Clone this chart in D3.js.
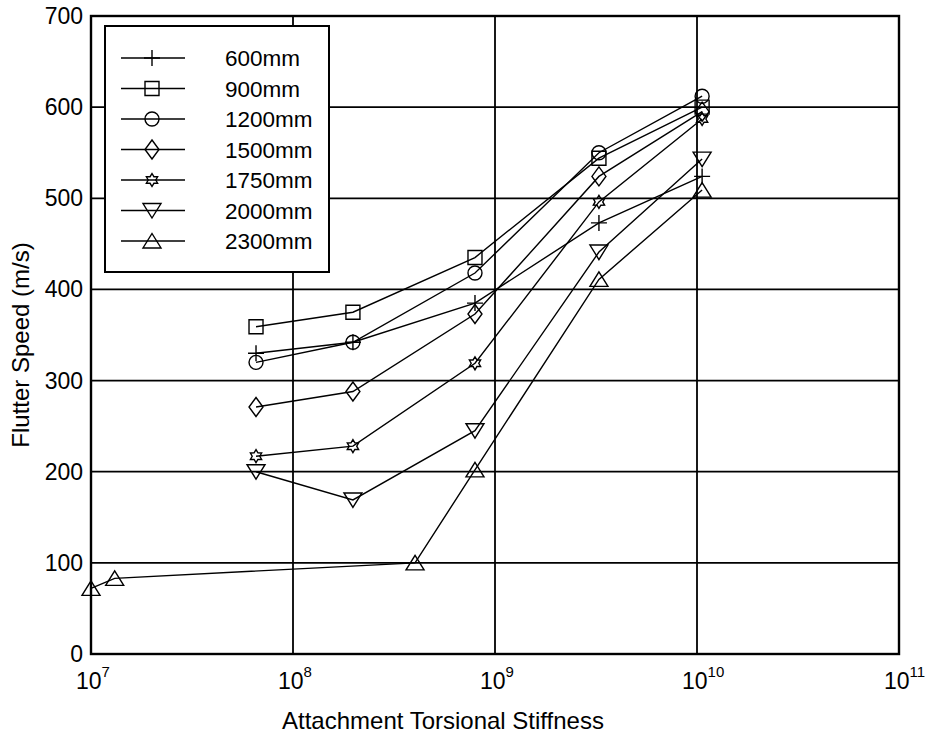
<!DOCTYPE html>
<html>
<head>
<meta charset="utf-8">
<script src="https://cdn.jsdelivr.net/npm/d3@7"></script>
<style>
  body { margin: 0; background: #fff; }
  text { font-family: "Liberation Sans", Arial, Helvetica, sans-serif; fill: #000; }
</style>
</head>
<body>
<div id="chart"></div>
<script>
// stiffness (N.m/rad) at which each run was made
const stiffness = [6.56e7, 1.98e8, 7.96e8, 3.27e9, 1.06e10];
const stiffness2300 = [1e7, 1.31e7, 4.02e8, 7.96e8, 3.27e9, 1.06e10];

// flutter speed (m/s) per store length
const speed600 = [330, 342, 385, 473, 524];
const speed900 = [359, 375, 435, 544, 600];
const speed1200 = [320, 342, 418, 550, 612];
const speed1500 = [271, 288, 373, 524, 595];
const speed1750 = [217, 228, 319, 496, 587];
const speed2000 = [200, 169, 245, 441, 543];
const speed2300 = [72, 83, 100, 202, 411, 509];

const lengths = ["600mm", "900mm", "1200mm", "1500mm", "1750mm", "2000mm", "2300mm"];
const markers = ["plus", "square", "circle", "diamond", "hexagram", "triangleDown", "triangleUp"];

const yTicks = [0, 100, 200, 300, 400, 500, 600, 700];
const xTickExponents = [7, 8, 9, 10, 11];

class FlutterChart {
  constructor(_config, _data) {
    this.config = {
      parentElement: _config.parentElement,
      containerWidth: _config.containerWidth || 925,
      containerHeight: _config.containerHeight || 735,
      margin: _config.margin || { top: 16, right: 26, bottom: 81, left: 91 },
    };
    this.data = _data;
    this.initVis();
    this.renderVis();
  }

  initVis() {
    let vis = this;
    vis.width = vis.config.containerWidth - vis.config.margin.left - vis.config.margin.right;
    vis.height = vis.config.containerHeight - vis.config.margin.top - vis.config.margin.bottom;

    vis.svg = d3.select(vis.config.parentElement)
      .append("svg")
      .attr("width", vis.config.containerWidth)
      .attr("height", vis.config.containerHeight);

    vis.g = vis.svg.append("g")
      .attr("transform", "translate(" + vis.config.margin.left + "," + vis.config.margin.top + ")");

    vis.xScale = d3.scaleLog().domain([1e7, 1e11]).range([0, vis.width]);
    vis.yScale = d3.scaleLinear().domain([0, 700]).range([vis.height, 0]);
  }

  markerPath(type) {
    const p = d3.path();
    if (type === "plus") {
      p.moveTo(-8, 0); p.lineTo(8, 0);
      p.moveTo(0, -8); p.lineTo(0, 8);
    } else if (type === "square") {
      p.rect(-7, -7, 14, 14);
    } else if (type === "circle") {
      p.moveTo(7, 0); p.arc(0, 0, 7, 0, 2 * Math.PI);
    } else if (type === "diamond") {
      p.moveTo(0, -9.5); p.lineTo(7, 0); p.lineTo(0, 9.5); p.lineTo(-7, 0); p.closePath();
    } else if (type === "hexagram") {
      for (let k = 0; k < 12; k++) {
        const r = k % 2 === 0 ? 6.5 : 3.8;
        const a = -Math.PI / 2 + k * Math.PI / 6;
        if (k === 0) p.moveTo(r * Math.cos(a), r * Math.sin(a));
        else p.lineTo(r * Math.cos(a), r * Math.sin(a));
      }
      p.closePath();
    } else if (type === "triangleUp") {
      p.moveTo(0, -7.5); p.lineTo(9, 7); p.lineTo(-9, 7); p.closePath();
    } else if (type === "triangleDown") {
      p.moveTo(0, 7.5); p.lineTo(9, -7); p.lineTo(-9, -7); p.closePath();
    }
    return p.toString();
  }

  renderVis() {
    let vis = this;

    // grid lines (solid, MATLAB "grid on" look)
    vis.g.append("g").selectAll("line")
      .data(xTickExponents.slice(1, -1))
      .join("line")
      .attr("x1", d => vis.xScale(Math.pow(10, d)))
      .attr("x2", d => vis.xScale(Math.pow(10, d)))
      .attr("y1", 0).attr("y2", vis.height)
      .attr("stroke", "#000").attr("stroke-width", 1.8);

    vis.g.append("g").selectAll("line")
      .data(yTicks.slice(1, -1))
      .join("line")
      .attr("x1", 0).attr("x2", vis.width)
      .attr("y1", d => vis.yScale(d))
      .attr("y2", d => vis.yScale(d))
      .attr("stroke", "#000").attr("stroke-width", 1.8);

    const line = d3.line()
      .x(d => vis.xScale(d[0]))
      .y(d => vis.yScale(d[1]));

    vis.data.forEach(s => {
      const pts = s.x.map((x, i) => [x, s.y[i]]);
      vis.g.append("path")
        .datum(pts)
        .attr("d", line)
        .attr("fill", "none")
        .attr("stroke", "#000")
        .attr("stroke-width", 1.4);

      vis.g.append("g").selectAll("path")
        .data(pts)
        .join("path")
        .attr("transform", d => "translate(" + vis.xScale(d[0]) + "," + vis.yScale(d[1]) + ")")
        .attr("d", vis.markerPath(s.marker))
        .attr("fill", "none")
        .attr("stroke", "#000")
        .attr("stroke-width", 1.4);
    });

    // legend box
    const legend = vis.g.append("g").attr("transform", "translate(14,10)");
    legend.append("rect")
      .attr("width", 224).attr("height", 246)
      .attr("fill", "#fff").attr("stroke", "#000").attr("stroke-width", 2);

    const rows = legend.selectAll("g.row")
      .data(vis.data)
      .join("g")
      .attr("class", "row")
      .attr("transform", (d, i) => "translate(0," + (32 + i * 30.5) + ")");
    rows.append("line")
      .attr("x1", 16).attr("x2", 80)
      .attr("stroke", "#000").attr("stroke-width", 1.4);
    rows.append("path")
      .attr("transform", "translate(47,0)")
      .attr("d", d => vis.markerPath(d.marker))
      .attr("fill", "none").attr("stroke", "#000").attr("stroke-width", 1.4);
    rows.append("text")
      .attr("x", 120).attr("y", 8)
      .style("font-size", "22.5px")
      .text(d => d.name);

    // axes frame
    vis.g.append("rect")
      .attr("width", vis.width).attr("height", vis.height)
      .attr("fill", "none").attr("stroke", "#000").attr("stroke-width", 2.4);

    // y tick labels
    vis.g.append("g").selectAll("text")
      .data(yTicks)
      .join("text")
      .attr("x", -8)
      .attr("y", d => vis.yScale(d) + 8)
      .attr("text-anchor", "end")
      .style("font-size", "23px")
      .text(d => d);

    // x tick labels 10^n
    const xt = vis.g.append("g").selectAll("text")
      .data(xTickExponents)
      .join("text")
      .attr("x", d => vis.xScale(Math.pow(10, d)) - 15)
      .attr("y", vis.height + 35)
      .style("font-size", "23px");
    xt.append("tspan").text("10");
    xt.append("tspan")
      .attr("dy", -12)
      .style("font-size", "15px")
      .text(d => d);

    // axis titles
    vis.svg.append("text")
      .attr("transform", "translate(29,345) rotate(-90)")
      .attr("text-anchor", "middle")
      .style("font-size", "24px")
      .text("Flutter Speed (m/s)");

    vis.svg.append("text")
      .attr("x", 282).attr("y", 729)
      .style("font-size", "24px")
      .text("Attachment Torsional Stiffness");
    // second title line runs off the bottom edge, as in the original figure
    vis.svg.append("text")
      .attr("x", 291).attr("y", 754)
      .style("font-size", "24px")
      .text("(Nm/rad)");
  }
}

const series = lengths.map((name, i) => ({
  name: name,
  marker: markers[i],
  x: i === 6 ? stiffness2300 : stiffness,
  y: [speed600, speed900, speed1200, speed1500, speed1750, speed2000, speed2300][i],
}));

const chart = new FlutterChart({ parentElement: "#chart" }, series);
</script>
</body>
</html>
